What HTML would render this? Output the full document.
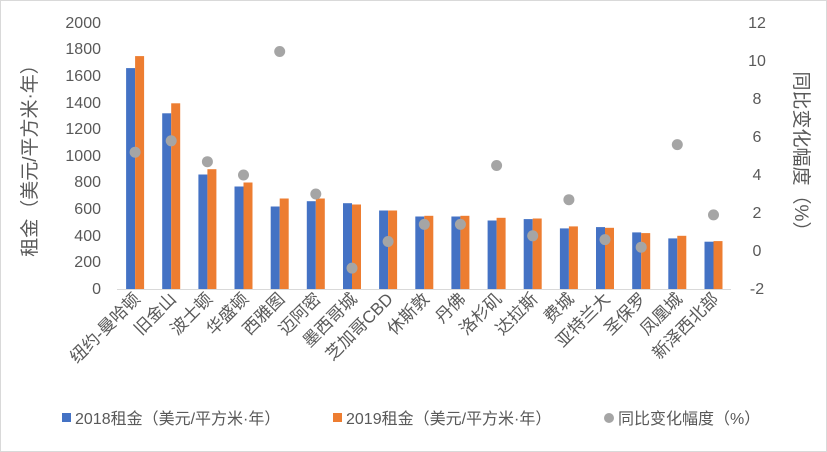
<!DOCTYPE html>
<html><head><meta charset="utf-8"><style>
body{margin:0;background:#fff}
svg{display:block;font-family:"Liberation Sans","Noto Sans CJK SC",sans-serif}
.b{fill:#4472c4}.o{fill:#ed7d31}.d{fill:#a5a5a5}
</style></head><body>
<svg width="827" height="452" viewBox="0 0 827 452" xmlns="http://www.w3.org/2000/svg">
<rect x="0.5" y="0.5" width="826" height="451" fill="#fff" stroke="#d9d9d9"/>
<g font-size="16" fill="#595959" text-anchor="end">
<text x="101" y="294">0</text><text x="101" y="267">200</text><text x="101" y="241">400</text><text x="101" y="214">600</text><text x="101" y="187">800</text><text x="101" y="161">1000</text><text x="101" y="134">1200</text><text x="101" y="108">1400</text><text x="101" y="81">1600</text><text x="101" y="54">1800</text><text x="101" y="28">2000</text>
</g>
<g font-size="16" fill="#595959" text-anchor="middle">
<text x="757" y="294">-2</text><text x="757" y="256">0</text><text x="757" y="218">2</text><text x="757" y="180">4</text><text x="757" y="142">6</text><text x="757" y="104">8</text><text x="757" y="66">10</text><text x="757" y="28">12</text>
</g>
<text transform="translate(36,156) rotate(-90)" font-size="19" fill="#595959" text-anchor="middle">租金（美元/平方米·年）</text>
<text transform="translate(795,156) rotate(90)" font-size="19" fill="#595959" text-anchor="middle">同比变化幅度（%）</text>
<line x1="117" y1="289.5" x2="731" y2="289.5" stroke="#d9d9d9"/>

<g transform="translate(135.1,0)"><rect class="b" x="-9" y="68.1" width="9" height="220.9"/><rect class="o" x="0" y="56.1" width="9" height="232.9"/><circle class="d" cx="0" cy="152.2" r="5.5"/></g>
<g transform="translate(171.2,0)"><rect class="b" x="-9" y="113.3" width="9" height="175.7"/><rect class="o" x="0" y="103.3" width="9" height="185.7"/><circle class="d" cx="0" cy="140.8" r="5.5"/></g>
<g transform="translate(207.4,0)"><rect class="b" x="-9" y="174.5" width="9" height="114.5"/><rect class="o" x="0" y="169.2" width="9" height="119.8"/><circle class="d" cx="0" cy="161.7" r="5.5"/></g>
<g transform="translate(243.5,0)"><rect class="b" x="-9" y="186.5" width="9" height="102.5"/><rect class="o" x="0" y="182.5" width="9" height="106.5"/><circle class="d" cx="0" cy="175" r="5.5"/></g>
<g transform="translate(279.7,0)"><rect class="b" x="-9" y="206.5" width="9" height="82.5"/><rect class="o" x="0" y="198.5" width="9" height="90.5"/><circle class="d" cx="0" cy="51.5" r="5.5"/></g>
<g transform="translate(315.8,0)"><rect class="b" x="-9" y="201.2" width="9" height="87.8"/><rect class="o" x="0" y="198.5" width="9" height="90.5"/><circle class="d" cx="0" cy="194" r="5.5"/></g>
<g transform="translate(352.0,0)"><rect class="b" x="-9" y="203.2" width="9" height="85.8"/><rect class="o" x="0" y="204.5" width="9" height="84.5"/><circle class="d" cx="0" cy="268.1" r="5.5"/></g>
<g transform="translate(388.1,0)"><rect class="b" x="-9" y="210.5" width="9" height="78.5"/><rect class="o" x="0" y="210.5" width="9" height="78.5"/><circle class="d" cx="0" cy="241.5" r="5.5"/></g>
<g transform="translate(424.3,0)"><rect class="b" x="-9" y="216.5" width="9" height="72.5"/><rect class="o" x="0" y="215.8" width="9" height="73.2"/><circle class="d" cx="0" cy="224.4" r="5.5"/></g>
<g transform="translate(460.4,0)"><rect class="b" x="-9" y="216.5" width="9" height="72.5"/><rect class="o" x="0" y="215.8" width="9" height="73.2"/><circle class="d" cx="0" cy="224.4" r="5.5"/></g>
<g transform="translate(496.6,0)"><rect class="b" x="-9" y="220.5" width="9" height="68.5"/><rect class="o" x="0" y="217.8" width="9" height="71.2"/><circle class="d" cx="0" cy="165.5" r="5.5"/></g>
<g transform="translate(532.7,0)"><rect class="b" x="-9" y="219.1" width="9" height="69.9"/><rect class="o" x="0" y="218.5" width="9" height="70.5"/><circle class="d" cx="0" cy="235.8" r="5.5"/></g>
<g transform="translate(568.9,0)"><rect class="b" x="-9" y="228.4" width="9" height="60.6"/><rect class="o" x="0" y="226.4" width="9" height="62.6"/><circle class="d" cx="0" cy="199.7" r="5.5"/></g>
<g transform="translate(605.0,0)"><rect class="b" x="-9" y="227.1" width="9" height="61.9"/><rect class="o" x="0" y="227.8" width="9" height="61.2"/><circle class="d" cx="0" cy="239.6" r="5.5"/></g>
<g transform="translate(641.2,0)"><rect class="b" x="-9" y="232.4" width="9" height="56.6"/><rect class="o" x="0" y="233.1" width="9" height="55.9"/><circle class="d" cx="0" cy="247.2" r="5.5"/></g>
<g transform="translate(677.3,0)"><rect class="b" x="-9" y="238.4" width="9" height="50.6"/><rect class="o" x="0" y="235.8" width="9" height="53.2"/><circle class="d" cx="0" cy="144.6" r="5.5"/></g>
<g transform="translate(713.5,0)"><rect class="b" x="-9" y="241.7" width="9" height="47.3"/><rect class="o" x="0" y="241.1" width="9" height="47.9"/><circle class="d" cx="0" cy="214.9" r="5.5"/></g>

<g font-size="17" fill="#595959" text-anchor="end">
<text transform="translate(141.1,300) rotate(-45)">纽约-曼哈顿</text>
<text transform="translate(177.2,300) rotate(-45)">旧金山</text>
<text transform="translate(213.4,300) rotate(-45)">波士顿</text>
<text transform="translate(249.5,300) rotate(-45)">华盛顿</text>
<text transform="translate(285.7,300) rotate(-45)">西雅图</text>
<text transform="translate(321.8,300) rotate(-45)">迈阿密</text>
<text transform="translate(358.0,300) rotate(-45)">墨西哥城</text>
<text transform="translate(394.1,300) rotate(-45)">芝加哥CBD</text>
<text transform="translate(430.3,300) rotate(-45)">休斯敦</text>
<text transform="translate(466.4,300) rotate(-45)">丹佛</text>
<text transform="translate(502.6,300) rotate(-45)">洛杉矶</text>
<text transform="translate(538.7,300) rotate(-45)">达拉斯</text>
<text transform="translate(574.9,300) rotate(-45)">费城</text>
<text transform="translate(611.0,300) rotate(-45)">亚特兰大</text>
<text transform="translate(647.2,300) rotate(-45)">圣保罗</text>
<text transform="translate(683.3,300) rotate(-45)">凤凰城</text>
<text transform="translate(719.5,300) rotate(-45)">新泽西北部</text>
</g>
<g font-size="16" fill="#595959">
<rect x="62" y="413" width="9" height="9" fill="#4472c4"/><text x="75" y="424">2018租金（美元/平方米·年）</text>
<rect x="333" y="413" width="9" height="9" fill="#ed7d31"/><text x="346" y="424">2019租金（美元/平方米·年）</text>
<circle cx="609" cy="418" r="5" fill="#a5a5a5"/><text x="618" y="424">同比变化幅度（%）</text>
</g>
</svg>
</body></html>
